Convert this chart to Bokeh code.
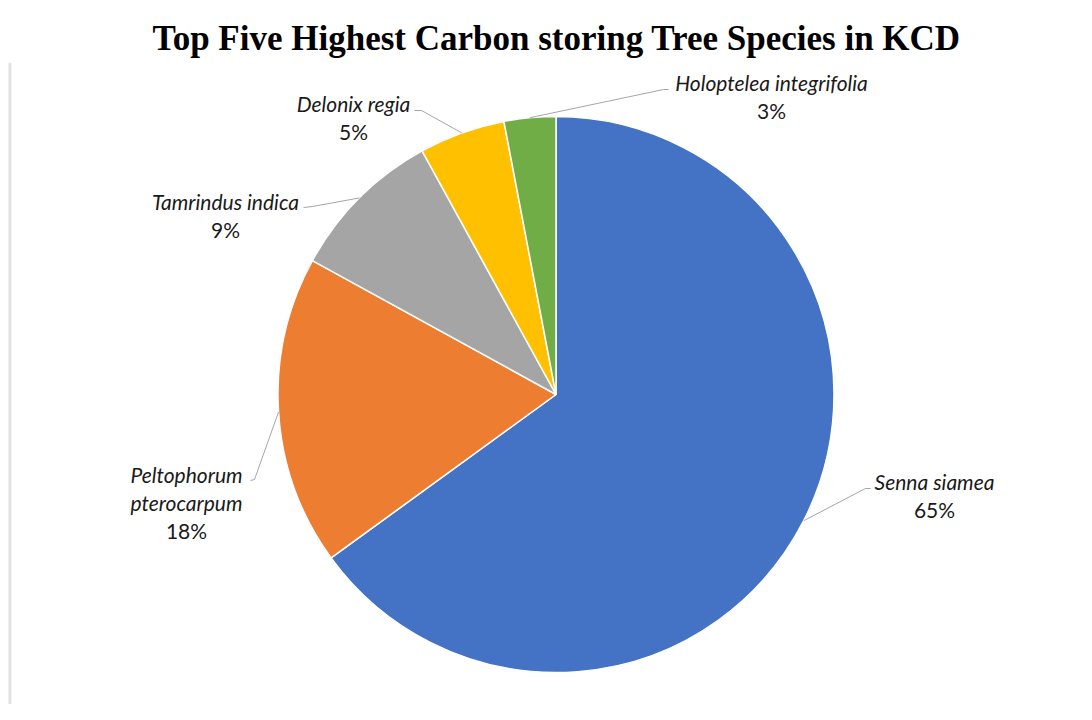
import math
from bokeh.plotting import figure
from bokeh.models import Range1d, Span
from bokeh.core.properties import value
from bokeh.embed import file_html
from bokeh.resources import INLINE

# ---- data ----
species = ["Senna siamea", "Peltophorum pterocarpum", "Tamrindus indica",
           "Delonix regia", "Holoptelea integrifolia"]
shares = [65, 18, 9, 5, 3]
colors = ["#4472C4", "#ED7D31", "#A5A5A5", "#FFC000", "#70AD47"]
title_text = "Top Five Highest Carbon storing Tree Species in KCD"

# label text lines (name lines in italics)
name_lines = [["Senna siamea"], ["Peltophorum", "pterocarpum"], ["Tamrindus indica"],
              ["Delonix regia"], ["Holoptelea integrifolia"]]

# ---- layout (page pixel coordinates; y grows downward) ----
W, H = 1076, 704
TOP_BORDER = 62
CX, CY, R = 555.5, 394.0, 278.0
# label centre x, first line centre y
label_pos = [(934, 481), (186, 474), (225, 201), (353, 103), (771, 82)]
line_gap = 28
# leader elbow and end points
elbows = [(865, 488), (254, 479), (312, 206), (421, 110), (663, 89)]
ends = [(870, 488), (250, 480), (303, 207), (414, 110), (668, 89)]

p = figure(width=W, height=H, output_backend="svg", toolbar_location=None,
           x_range=Range1d(0, W), y_range=Range1d(-H, -TOP_BORDER),
           min_border=0, min_border_top=TOP_BORDER)
p.axis.visible = False
p.grid.visible = False
p.outline_line_color = None
p.background_fill_color = "white"
p.border_fill_color = "white"

p.title.text = title_text
p.title.align = "left"
p.title.offset = 152
p.title.text_font = "Liberation Serif"
p.title.text_font_style = "bold"
p.title.text_font_size = "35px"
p.title.text_color = "#000000"
p.title.standoff = 10

# left frame line
p.add_layout(Span(location=9.5, dimension="height", line_color="#e3e3e3", line_width=3))

total = float(sum(shares))
cum = 0.0
starts, endsa, mids = [], [], []
for v in shares:
    a0 = math.pi / 2 - 2 * math.pi * cum / total
    cum += v
    a1 = math.pi / 2 - 2 * math.pi * cum / total
    starts.append(a0)
    endsa.append(a1)
    mids.append((a0 + a1) / 2)

p.wedge(x=[CX] * len(shares), y=[-CY] * len(shares), radius=R,
        start_angle=starts, end_angle=endsa, direction="clock",
        fill_color=colors, line_color="white", line_width=1.5)

# leader lines
for i, m in enumerate(mids):
    sx = CX + R * math.cos(m)
    sy = CY - R * math.sin(m)
    ex, ey = elbows[i]
    fx, fy = ends[i]
    p.line([sx, ex, fx], [-sy, -ey, -fy], line_color="#a6a6a6", line_width=1)

# labels
for i, v in enumerate(shares):
    lx, ly = label_pos[i]
    lines = name_lines[i]
    for k, t in enumerate(lines):
        p.text(x=[lx], y=[-(ly + k * line_gap)], text=[t], text_align="center",
               text_baseline="middle", text_font=value("Lato"), text_font_style="italic",
               text_font_size="21px", text_color="#1a1a1a")
    p.text(x=[lx], y=[-(ly + len(lines) * line_gap)], text=[f"{v}%"], text_align="center",
           text_baseline="middle", text_font=value("Lato"), text_font_size="21px",
           text_color="#1a1a1a")

open("out.html", "w").write(file_html(p, INLINE))
